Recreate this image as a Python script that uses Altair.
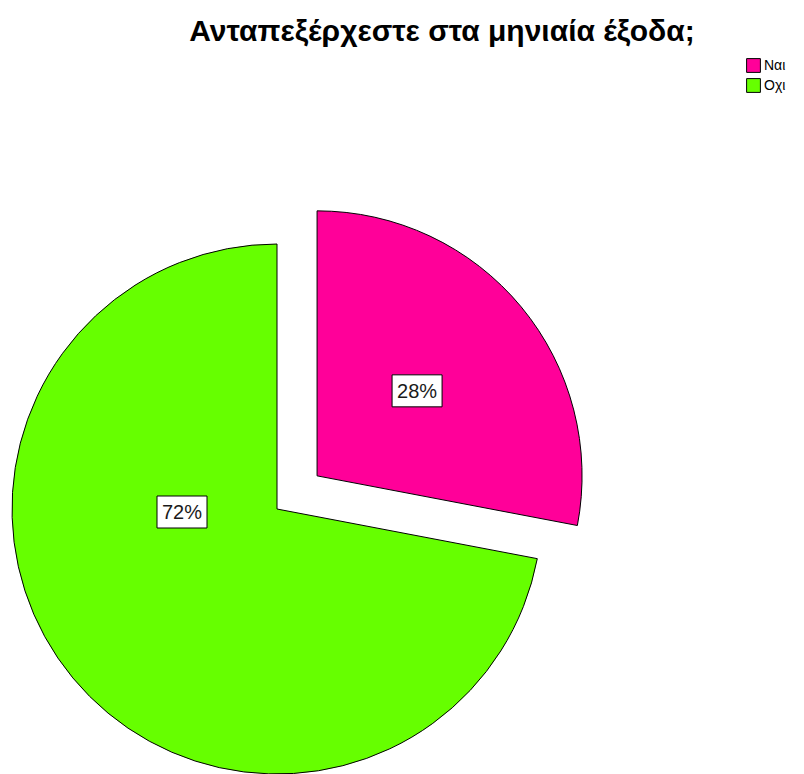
import math
import altair as alt
import pandas as pd

# ---- data ----
categories = ["Ναι", "Οχι"]
percents = [28, 72]
colors = ["#FF0099", "#66FF00"]
order = [0, 1]

title_text = "Ανταπεξέρχεστε στα μηνιαία έξοδα;"

df = pd.DataFrame({"category": categories, "value": percents, "order": order})

# ---- layout ----
W, H = 788, 716
PAD_TOP = 50
R = 265
GREEN_C = (269, 451)
EXPLODE = 52
mid_pink = (percents[0] / 2) / sum(percents) * 2 * math.pi
PINK_C = (GREEN_C[0] + EXPLODE * math.sin(mid_pink), GREEN_C[1] - EXPLODE * math.cos(mid_pink))

color_scale = alt.Scale(domain=categories, range=colors)

base = (
    alt.Chart(df)
    .transform_joinaggregate(total="sum(value)")
    .transform_window(cum="sum(value)", sort=[alt.SortField("order")])
    .transform_calculate(
        start="(datum.cum - datum.value) / datum.total * 2 * PI",
        end="datum.cum / datum.total * 2 * PI",
        label="datum.value + '%'",
    )
)


def slice_layer(cat, center):
    return (
        base.transform_filter(alt.datum.category == cat)
        .mark_arc(stroke="black", strokeWidth=1, outerRadius=R)
        .encode(
            theta=alt.Theta("start:Q", scale=None),
            theta2="end:Q",
            x=alt.value(center[0]),
            y=alt.value(center[1]),
            color=alt.Color(
                "category:N",
                scale=color_scale,
                legend=alt.Legend(
                    title=None,
                    orient="none",
                    legendX=738,
                    legendY=0,
                    symbolType="square",
                    symbolSize=190,
                    symbolStrokeColor="black",
                    symbolStrokeWidth=1,
                    labelFont="Liberation Sans",
                    labelFontSize=14,
                    labelColor="black",
                    labelOffset=3,
                    rowPadding=1,
                ),
            ),
        )
    )


BOX_W = 50
BOX = "M-1,-0.64H1V0.64H-1Z"


def label_layer(cat, pos):
    sub = base.transform_filter(alt.datum.category == cat)
    box = sub.mark_point(
        shape=BOX, size=BOX_W * BOX_W, filled=True, fill="white",
        stroke="black", strokeWidth=1, opacity=1,
    ).encode(x=alt.value(pos[0]), y=alt.value(pos[1]))
    txt = sub.mark_text(
        font="Liberation Sans", fontSize=20, color="#1a1a1a", baseline="middle", align="center"
    ).encode(x=alt.value(pos[0]), y=alt.value(pos[1] + 1), text="label:N")
    return box + txt


pink_label = (PINK_C[0] + 100, PINK_C[1] - 85)
green_label = (GREEN_C[0] - 95, GREEN_C[1] + 3)

chart = (
    alt.layer(
        slice_layer("Οχι", GREEN_C),
        slice_layer("Ναι", PINK_C),
        label_layer("Ναι", pink_label),
        label_layer("Οχι", green_label),
    )
    .properties(
        width=W,
        height=H,
        title=alt.TitleParams(
            title_text,
            font="Liberation Sans",
            fontSize=30,
            fontWeight="bold",
            color="black",
            anchor="middle",
            dx=40,
            offset=11,
        ),
        autosize=alt.AutoSizeParams(type="none"),
        padding={"top": PAD_TOP, "left": 0, "right": 0, "bottom": 0},
    )
    .configure_view(stroke=None)
)

chart.save("out.html", embed_options={"renderer": "svg", "actions": False})
